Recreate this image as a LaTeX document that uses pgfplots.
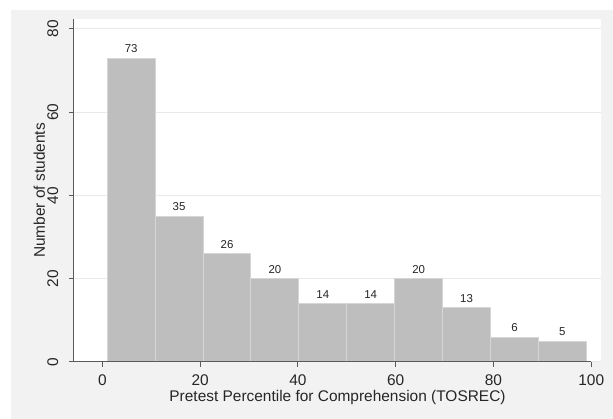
\documentclass[border=0pt]{standalone}
\usepackage{pgfplots}
\pgfplotsset{compat=1.18}
\usepackage{fontspec}
\setmainfont{Liberation Sans}

\definecolor{bgshade}{HTML}{F2F2F2}
\definecolor{axisgray}{HTML}{5A5A5A}
\definecolor{gridgray}{HTML}{EAEAEA}
\definecolor{barfill}{HTML}{BEBEBE}
\definecolor{baredge}{HTML}{D6D6D6}
\definecolor{txt}{HTML}{262626}

\begin{document}
\begin{tikzpicture}
\useasboundingbox (0,0) rectangle (613bp,419bp);
\fill[white] (0,0) rectangle (613bp,419bp);
\fill[bgshade] (11bp,0) rectangle (613bp,409bp);

\begin{axis}[
    at={(74bp,57bp)}, anchor=south west,
    scale only axis,
    width=527bp, height=343bp,
    xmin=-5.8, xmax=102,
    ymin=0, ymax=82.4,
    axis line style={draw=none},
    axis background/.style={fill=white},
    xtick={0,20,...,100},
    ytick={0,20,...,80},
    xtick pos=bottom, ytick pos=left,
    tick align=outside,
    major tick length=5bp,
    tick style={axisgray, line width=1bp},
    ymajorgrids,
    major grid style={gridgray, line width=1bp},
    /pgf/number format/assume math mode=true,
    tick label style={font=\fontsize{15.5}{16}\selectfont, text=txt, inner sep=0pt},
    xticklabel style={anchor=base, yshift=-18.4bp},
    yticklabel style={rotate=90, anchor=base},
    yticklabel shift=11bp,
    xlabel={Pretest Percentile for Comprehension (TOSREC)},
    ylabel={Number of students},
    label style={font=\fontsize{15.5}{16}\selectfont, text=txt, inner sep=0pt},
    xlabel style={at={(axis description cs:0.5,0)}, anchor=base, yshift=-39.5bp},
    ylabel style={at={([xshift=-29bp]axis description cs:0,0.5)}, anchor=base},
    clip=false,
]

% histogram bins (edges) and counts
\addplot[ybar interval, fill=barfill, draw=baredge, line width=1bp] coordinates {
    (1,73) (10.8,35) (20.6,26) (30.4,20) (40.2,14) (50,14)
    (59.8,20) (69.6,13) (79.4,6) (89.2,5) (99,5)
};

% counts above the bars
\addplot[draw=none, nodes near coords,
    nodes near coords style={font=\fontsize{11.5}{12}\selectfont, text=txt,
        anchor=base, inner sep=0pt, yshift=5.5bp}] coordinates {
    (5.9,73) (15.7,35) (25.5,26) (35.3,20) (45.1,14) (54.9,14)
    (64.7,20) (74.5,13) (84.3,6) (94.1,5)
};

% axis lines
\draw[axisgray, line width=1bp] (-5.8,0) -- (100,0);
\draw[axisgray, line width=1bp] (-5.8,0) -- (-5.8,82.4);

\end{axis}
\end{tikzpicture}
\end{document}
